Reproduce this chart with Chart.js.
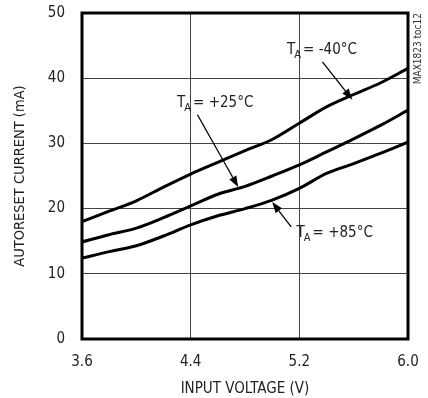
<!DOCTYPE html>
<html>
<head>
  <meta charset="utf-8">
  <title>Autoreset current vs input voltage</title>
  <script src="https://cdn.jsdelivr.net/npm/chart.js"></script>
  <style>
    html, body { margin: 0; padding: 0; background: #fff; }
    #wrap { width: 428px; height: 398px; }
  </style>
</head>
<body>
<div id="wrap"><canvas id="myChart" width="428" height="398"></canvas></div>

<script>
  // data
  const voltage = [3.6, 3.8, 4.0, 4.2, 4.4, 4.6, 4.8, 5.0, 5.2, 5.4, 5.6, 5.8, 6.0];
  const currentM40 = [18.0, 19.6, 21.2, 23.3, 25.3, 27.1, 28.9, 30.6, 33.1, 35.6, 37.5, 39.3, 41.5];
  const currentP25 = [14.9, 16.0, 17.0, 18.6, 20.4, 22.2, 23.4, 25.0, 26.7, 28.7, 30.7, 32.8, 35.1];
  const currentP85 = [12.4, 13.4, 14.3, 15.8, 17.5, 18.9, 20.0, 21.3, 23.1, 25.4, 26.9, 28.5, 30.2];
  const xTicks = [3.6, 4.4, 5.2, 6.0];
  const yTicks = [0, 10, 20, 30, 40, 50];

  // curve labels: text after the subscript, label anchor and arrow (in data units)
  const noteText = ['= -40°C', '= +25°C', '= +85°C'];
  const noteAt = [[5.11, 44.3], [4.30, 36.2], [5.18, 16.3]];
  const arrowFrom = [[5.37, 42.5], [4.45, 34.4], [5.14, 17.2]];
  const arrowTo = [[5.59, 36.7], [4.75, 23.3], [5.0, 21.0]];

  const FONT = '"DejaVu Sans Condensed", "DejaVu Sans", sans-serif';
  const INK = '#222';

  function pts(ys) {
    return voltage.map((v, i) => ({ x: v, y: ys[i] }));
  }

  function arrow(ctx, x1, y1, x2, y2) {
    const a = Math.atan2(y2 - y1, x2 - x1);
    const len = 11, half = 4;
    ctx.beginPath();
    ctx.moveTo(x1, y1);
    ctx.lineTo(x2 - Math.cos(a) * len, y2 - Math.sin(a) * len);
    ctx.stroke();
    ctx.beginPath();
    ctx.moveTo(x2, y2);
    ctx.lineTo(x2 - Math.cos(a) * len - Math.sin(a) * half, y2 - Math.sin(a) * len + Math.cos(a) * half);
    ctx.lineTo(x2 - Math.cos(a) * len + Math.sin(a) * half, y2 - Math.sin(a) * len - Math.cos(a) * half);
    ctx.closePath();
    ctx.fill();
  }

  const extras = {
    id: 'extras',
    afterDatasetsDraw(chart) {
      const ctx = chart.ctx;
      const xs = chart.scales.x, ys = chart.scales.y;
      const area = chart.chartArea;
      ctx.save();
      // heavy frame
      ctx.strokeStyle = '#000';
      ctx.lineWidth = 3;
      ctx.strokeRect(area.left, area.top, area.right - area.left, area.bottom - area.top);

      // curve labels
      ctx.fillStyle = INK;
      ctx.strokeStyle = '#000';
      ctx.lineWidth = 1.3;
      ctx.textBaseline = 'middle';
      ctx.textAlign = 'left';
      noteText.forEach((t, i) => {
        let x = xs.getPixelForValue(noteAt[i][0]);
        const y = ys.getPixelForValue(noteAt[i][1]);
        ctx.font = '15px ' + FONT;
        ctx.fillText('T', x, y);
        x += ctx.measureText('T').width - 1;
        ctx.font = '11px ' + FONT;
        ctx.fillText('A', x, y + 5);
        x += ctx.measureText('A').width + 2;
        ctx.font = '15px ' + FONT;
        ctx.fillText(t, x, y);
        ctx.fillStyle = '#000';
        arrow(ctx,
          xs.getPixelForValue(arrowFrom[i][0]), ys.getPixelForValue(arrowFrom[i][1]),
          xs.getPixelForValue(arrowTo[i][0]), ys.getPixelForValue(arrowTo[i][1]));
        ctx.fillStyle = INK;
      });

      // figure tag on the right
      ctx.translate(area.right + 10, area.top);
      ctx.rotate(-Math.PI / 2);
      ctx.font = '10px ' + FONT;
      ctx.textAlign = 'right';
      ctx.fillStyle = '#333';
      ctx.fillText('MAX1823 toc12', 0, 0);
      ctx.restore();
    }
  };

  const line = (data) => ({
    data: pts(data),
    borderColor: '#000',
    borderWidth: 3,
    pointRadius: 0,
    fill: false,
    tension: 0.4,
    cubicInterpolationMode: 'monotone'
  });

  const myChart = new Chart(document.getElementById('myChart'), {
    type: 'line',
    data: {
      datasets: [line(currentM40), line(currentP25), line(currentP85)]
    },
    options: {
      responsive: false,
      animation: false,
      layout: { padding: { left: 0, right: 20, top: 13, bottom: 0 } },
      plugins: { legend: { display: false }, tooltip: { enabled: false } },
      scales: {
        x: {
          type: 'linear',
          min: 3.6,
          max: 6.0,
          afterBuildTicks: (s) => { s.ticks = xTicks.map(v => ({ value: v })); },
          afterFit: (s) => { s.height = 59; s.paddingLeft = 0; s.paddingRight = 0; },
          grid: { color: '#444', lineWidth: 1, drawTicks: false },
          border: { display: false },
          ticks: {
            padding: 14,
            color: INK,
            font: { family: FONT, size: 15 },
            callback: (v) => Number(v).toFixed(1)
          },
          title: {
            display: true,
            text: 'INPUT VOLTAGE (V)',
            color: INK,
            font: { family: FONT, size: 15 },
            padding: { top: 0, bottom: 0 }
          }
        },
        y: {
          min: 0,
          max: 50,
          afterBuildTicks: (s) => { s.ticks = yTicks.map(v => ({ value: v })); },
          afterFit: (s) => { s.width = 82; s.paddingTop = 0; s.paddingBottom = 0; },
          grid: { color: '#444', lineWidth: 1, drawTicks: false },
          border: { display: false },
          ticks: {
            padding: 17,
            color: INK,
            font: { family: FONT, size: 15 }
          },
          title: {
            display: true,
            text: 'AUTORESET CURRENT (mA)',
            color: INK,
            font: { family: FONT, size: 14.5 },
            padding: { top: 12, bottom: 0 }
          }
        }
      }
    },
    plugins: [extras]
  });
</script>
</body>
</html>
